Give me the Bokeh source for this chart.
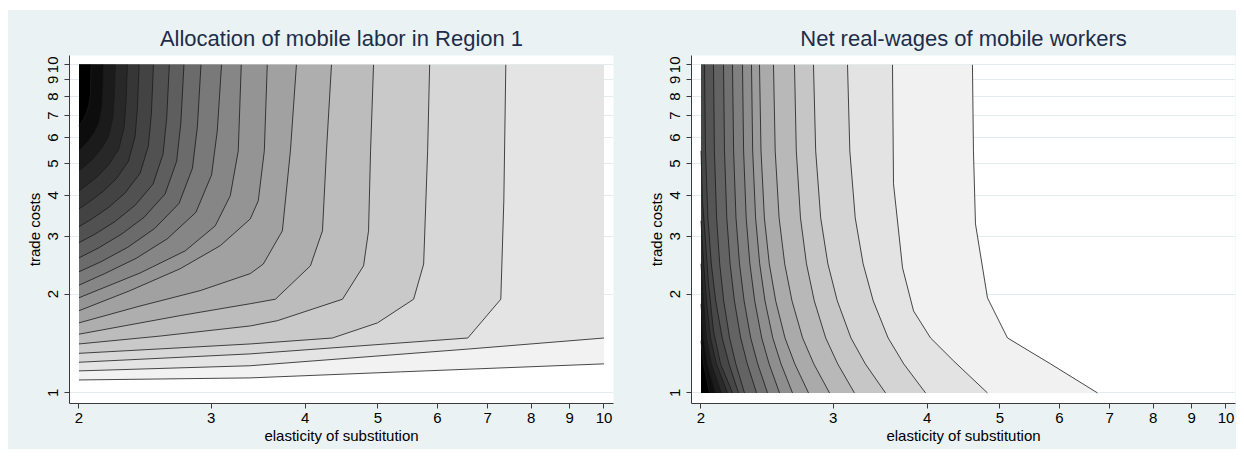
import numpy as np
from bokeh.plotting import figure
from bokeh.layouts import row
from bokeh.models import FixedTicker, Range1d, NumeralTickFormatter
from bokeh.embed import file_html
from bokeh.resources import INLINE

# ---------------- data ----------------
x_ticks = [2, 3, 4, 5, 6, 7, 8, 9, 10]
y_ticks = [1, 2, 3, 4, 5, 6, 7, 8, 9, 10]

left_title = "Allocation of mobile labor in Region 1"
right_title = "Net real-wages of mobile workers"
x_label = "elasticity of substitution"
y_label = "trade costs"

# contour lines of the left panel (elasticity, trade costs), darkest first
left_sigma = [
    [2.075, 2.073, 2.071, 2.061, 2.046, 2.030, 2.014, 2.0],
    [2.157, 2.152, 2.146, 2.128, 2.096, 2.061, 2.027, 2.0],
    [2.236, 2.229, 2.219, 2.192, 2.144, 2.092, 2.041, 2.0],
    [2.320, 2.310, 2.296, 2.259, 2.192, 2.122, 2.054, 2.0],
    [2.405, 2.392, 2.375, 2.327, 2.243, 2.153, 2.067, 2.0],
    [2.513, 2.497, 2.474, 2.412, 2.304, 2.192, 2.084, 2.0],
    [2.638, 2.617, 2.588, 2.510, 2.375, 2.234, 2.102, 2.0],
    [2.759, 2.733, 2.698, 2.604, 2.442, 2.275, 2.120, 2.0],
    [2.907, 2.875, 2.832, 2.718, 2.522, 2.323, 2.139, 2.0],
    [3.096, 3.056, 3.003, 2.862, 2.622, 2.382, 2.164, 2.0],
    [3.289, 3.259, 3.180, 3.037, 2.770, 2.412, 2.0],
    [3.562, 3.530, 3.465, 3.381, 3.084, 2.727, 2.339, 2.0],
    [3.895, 3.824, 3.731, 3.519, 3.381, 2.900, 2.412, 2.0],
    [4.337, 4.271, 4.219, 4.066, 3.652, 3.381, 2.727, 2.0],
    [4.934, 4.889, 4.859, 4.785, 4.486, 3.675, 3.381, 2.565, 2.0],
    [5.860, 5.824, 5.753, 5.579, 4.995, 4.350, 3.381, 2.0],
    [7.401, 7.356, 7.288, 6.587, 3.381, 2.0],
    [10.0, 6.587, 3.381, 2.0],
    [10.0, 5.361, 3.381, 2.0],
]
left_tau = [
    [10, 8.79, 8.07, 7.51, 7.13, 6.86, 6.66, 6.52],
    [10, 8.34, 7.39, 6.68, 6.21, 5.88, 5.64, 5.47],
    [10, 8.00, 6.89, 6.07, 5.56, 5.19, 4.93, 4.75],
    [10, 7.67, 6.43, 5.53, 4.97, 4.59, 4.32, 4.13],
    [10, 7.38, 6.03, 5.08, 4.50, 4.11, 3.83, 3.64],
    [10, 7.11, 5.66, 4.67, 4.07, 3.68, 3.40, 3.21],
    [10, 6.88, 5.35, 4.33, 3.73, 3.33, 3.05, 2.87],
    [10, 6.66, 5.08, 4.04, 3.43, 3.04, 2.76, 2.58],
    [10, 6.47, 4.84, 3.78, 3.17, 2.78, 2.51, 2.34],
    [10, 6.29, 4.62, 3.55, 2.95, 2.57, 2.31, 2.13],
    [10, 5.47, 3.99, 3.23, 2.71, 2.32, 1.95],
    [10, 5.47, 3.85, 3.39, 2.81, 2.39, 2.05, 1.78],
    [10, 5.47, 3.12, 2.47, 2.31, 2.05, 1.84, 1.635],
    [10, 5.47, 3.12, 2.44, 1.93, 1.87, 1.72, 1.51],
    [10, 5.47, 3.12, 2.44, 1.93, 1.66, 1.60, 1.49, 1.41],
    [10, 5.47, 2.47, 1.93, 1.635, 1.47, 1.41, 1.32],
    [10, 3.85, 1.93, 1.47, 1.315, 1.24],
    [1.47, 1.36, 1.21, 1.167],
    [1.226, 1.159, 1.111, 1.095],
]

# contour lines of the right panel, darkest first
right_sigma = [
    [2.0, 2.0154, 2.0528],
    [2.0, 2.0154, 2.0403, 2.0909],
    [2.0, 2.0154, 2.0340, 2.0654, 2.1298],
    [2.0, 2.0154, 2.0340, 2.0591, 2.0973, 2.1692],
    [2.0, 2.0092, 2.0278, 2.0465, 2.0781, 2.1233, 2.2028],
    [2.0216, 2.0278, 2.0428, 2.0642, 2.0922, 2.1343, 2.1793, 2.2437],
    [2.0781, 2.0839, 2.0980, 2.1180, 2.1442, 2.1833, 2.2252, 2.2853],
    [2.1428, 2.1494, 2.1646, 2.1866, 2.2156, 2.2588, 2.3050, 2.3710],
    [2.2028, 2.2102, 2.2265, 2.2506, 2.2825, 2.3291, 2.3798, 2.4522],
    [2.2713, 2.2790, 2.2972, 2.3234, 2.3579, 2.4090, 2.4643, 2.5442],
    [2.3348, 2.3434, 2.3644, 2.3943, 2.4335, 2.4924, 2.5559, 2.6475],
    [2.3928, 2.4039, 2.4290, 2.4658, 2.5147, 2.5874, 2.6662, 2.7806],
    [2.4977, 2.5108, 2.5410, 2.5850, 2.6435, 2.7307, 2.8261, 2.9655],
    [2.6638, 2.6786, 2.7132, 2.7636, 2.8304, 2.9312, 3.0410, 3.2010],
    [2.8235, 2.8426, 2.8865, 2.9509, 3.0373, 3.1669, 3.3098, 3.5212],
    [3.1340, 3.1562, 3.2089, 3.2875, 3.3909, 3.5494, 3.7233, 3.9807],
    [3.5975, 3.6086, 3.7098, 3.8370, 4.0423, 4.3376, 4.8128],
    [4.5968, 4.6109, 4.6393, 4.8132, 5.1173, 5.8392, 6.7439],
]
tau_profile = [10, 5.468, 3.417, 2.474, 1.908, 1.471, 1.226, 1.0]
right_tau = [
    [1.44, 1.226, 1.0],
    [1.868, 1.471, 1.226, 1.0],
    [2.474, 1.908, 1.471, 1.226, 1.0],
    [3.345, 2.526, 1.908, 1.471, 1.226, 1.0],
    [5.468, 3.849, 2.907, 2.149, 1.545, 1.226, 1.0],
    tau_profile, tau_profile, tau_profile, tau_profile, tau_profile,
    tau_profile, tau_profile, tau_profile, tau_profile, tau_profile,
    tau_profile,
    [10, 4.337, 2.405, 1.778, 1.471, 1.252, 1.0],
    [10, 5.468, 3.275, 1.948, 1.471, 1.226, 1.0],
]

# ---------------- style ----------------
BG = "#eaf2f3"
FONT = "Liberation Sans"
X_MIN, X_MAX = x_ticks[0], x_ticks[-1]
Y_MIN, Y_MAX = y_ticks[0], y_ticks[-1]


def grays(n):
    vals = np.round(np.linspace(0, 255, n)).astype(int)
    return ["#%02x%02x%02x" % (v, v, v) for v in vals]


def make_fig(title, b_left, b_right):
    p = figure(width=614, height=439, x_axis_type="log", y_axis_type="log",
               x_range=Range1d(1.9426, 10.2956), y_range=Range1d(0.9283, 10.675),
               output_backend="svg", toolbar_location=None, title=title,
               min_border_left=b_left, min_border_right=b_right,
               min_border_top=45, min_border_bottom=46,
               background_fill_color="white", border_fill_color=BG,
               styles={"background-color": BG})
    p.outline_line_color = None
    p.title.text_font = FONT
    p.title.text_font_size = "22px"
    p.title.text_font_style = "normal"
    p.title.text_color = "#1e2d4b"
    p.title.align = "center"
    p.xaxis.ticker = FixedTicker(ticks=x_ticks)
    p.yaxis.ticker = FixedTicker(ticks=y_ticks)
    p.xaxis.formatter = NumeralTickFormatter(format="0")
    p.yaxis.formatter = NumeralTickFormatter(format="0")
    p.xaxis.axis_label = x_label
    p.yaxis.axis_label = y_label
    p.yaxis.major_label_orientation = "vertical"
    for ax in (p.xaxis[0], p.yaxis[0]):
        ax.axis_line_color = "#3a3a3a"
        ax.major_tick_line_color = "#3a3a3a"
        ax.major_tick_out = 5
        ax.major_tick_in = 0
        ax.minor_tick_line_color = None
        ax.major_label_text_font = FONT
        ax.major_label_text_font_size = "15px"
        ax.major_label_text_color = "black"
        ax.axis_label_text_font = FONT
        ax.axis_label_text_font_size = "15px"
        ax.axis_label_text_font_style = "normal"
        ax.axis_label_text_color = "black"
    p.xaxis.major_label_standoff = 4
    p.xaxis.axis_label_standoff = 1
    p.yaxis.major_label_standoff = 6
    p.yaxis.axis_label_standoff = 3
    p.xgrid.visible = False
    p.ygrid.ticker = FixedTicker(ticks=y_ticks)
    p.ygrid.grid_line_color = "#e2ecee"
    p.ygrid.grid_line_width = 1
    return p


# left panel: darker region lies toward the top-left corner
p1 = make_fig(left_title, 61, 9)
cols1 = grays(len(left_sigma) + 1)
xs1, ys1, fc1 = [], [], []
for k in reversed(range(len(left_sigma))):
    s, t = left_sigma[k], left_tau[k]
    if s[0] >= X_MAX:
        xs1.append(list(s) + [X_MIN, X_MAX]); ys1.append(list(t) + [Y_MAX, Y_MAX])
    else:
        xs1.append(list(s) + [X_MIN]); ys1.append(list(t) + [Y_MAX])
    fc1.append(cols1[k])
p1.patches(xs=xs1, ys=ys1, fill_color=fc1, line_color=None)
p1.multi_line(xs=left_sigma, ys=left_tau, line_color="#1a1a1a", line_width=0.8)

# right panel: darker region lies toward the bottom-left corner
p2 = make_fig(right_title, 69, 1)
cols2 = grays(len(right_sigma) + 1)
xs2, ys2, fc2 = [], [], []
for k in reversed(range(len(right_sigma))):
    s, t = right_sigma[k], right_tau[k]
    if t[0] >= Y_MAX:
        xs2.append(list(s) + [X_MIN, X_MIN]); ys2.append(list(t) + [Y_MIN, Y_MAX])
    else:
        xs2.append(list(s) + [X_MIN]); ys2.append(list(t) + [Y_MIN])
    fc2.append(cols2[k])
p2.patches(xs=xs2, ys=ys2, fill_color=fc2, line_color=None)
p2.multi_line(xs=right_sigma, ys=right_tau, line_color="#1a1a1a", line_width=0.8)

layout = row(p1, p2, spacing=0, margin=(10, 0, 0, 8),
             styles={"background-color": BG})
open("out.html", "w").write(file_html(layout, INLINE))
